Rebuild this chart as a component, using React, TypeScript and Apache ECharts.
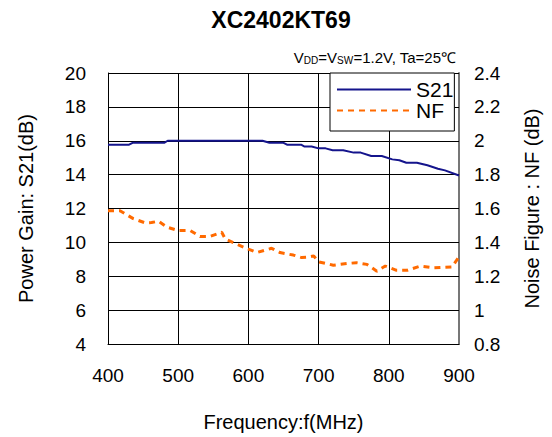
import React, { useEffect, useRef } from "react";
import * as echarts from "echarts";

const titleText = "XC2402KT69";
const xTicks = [400, 500, 600, 700, 800, 900];
const freqS21 = [400, 430, 435, 480, 485, 620, 630, 650, 655, 675, 680, 690, 700, 710, 720, 735, 750, 760, 775, 790, 805, 815, 825, 840, 855, 870, 880, 900];
const s21 = [15.77, 15.77, 15.88, 15.88, 16.0, 16.0, 15.88, 15.88, 15.77, 15.77, 15.66, 15.66, 15.55, 15.55, 15.44, 15.44, 15.3, 15.3, 15.1, 15.1, 14.9, 14.85, 14.7, 14.7, 14.55, 14.35, 14.25, 13.95];
const freqNF = [400, 417, 436, 453, 462, 472, 484, 500, 517, 531, 545, 562, 567, 583, 600, 612, 633, 645, 664, 676, 685, 693, 700, 716, 721, 740, 754, 769, 783, 795, 811, 826, 845, 864, 890, 900];
const nf = [1.587, 1.587, 1.54, 1.515, 1.517, 1.525, 1.49, 1.47, 1.47, 1.435, 1.435, 1.46, 1.42, 1.39, 1.36, 1.34, 1.365, 1.34, 1.325, 1.31, 1.313, 1.32, 1.285, 1.27, 1.265, 1.275, 1.28, 1.27, 1.23, 1.26, 1.235, 1.235, 1.26, 1.25, 1.255, 1.315];

const FONT = "'Liberation Sans', Arial, sans-serif";

export default function App() {
  const ref = useRef<HTMLDivElement>(null);
  useEffect(() => {
    document.body.style.margin = "0";
    const chart = echarts.init(ref.current!, null, { renderer: "svg" });
    const tickText = { color: "#000", fontSize: 19, fontFamily: FONT };
    const nameText = { color: "#000", fontSize: 20, fontFamily: FONT };
    chart.setOption({
      animation: false,
      backgroundColor: "#fff",
      textStyle: { fontFamily: FONT },
      graphic: [
        {
          type: "text",
          x: 281,
          y: 20,
          style: { text: titleText, font: `bold 23px ${FONT}`, fill: "#000", textAlign: "center", textVerticalAlign: "middle" },
        },
        {
          type: "text",
          x: 456,
          y: 49,
          style: {
            text: "{n|V}{s|DD}{n|=V}{s|SW}{n|=1.2V, Ta=25℃}",
            textAlign: "right",
            fill: "#000",
            rich: {
              n: { fontSize: 15, fontFamily: FONT, lineHeight: 16, verticalAlign: "bottom" },
              s: { fontSize: 10, fontFamily: FONT, lineHeight: 11, verticalAlign: "bottom" },
            },
          },
        },
      ],
      legend: {
        left: 330,
        top: 73,
        orient: "vertical",
        itemWidth: 74,
        itemHeight: 12,
        itemGap: 0,
        itemTextGap: 5,
        padding: [6, 1, 10, 6],
        backgroundColor: "#fff",
        borderColor: "#000",
        borderWidth: 1,
        borderRadius: 0,
        itemStyle: { opacity: 0 },
        textStyle: { fontSize: 21, color: "#000", fontFamily: FONT },
        data: ["S21", "NF"],
      },
      grid: { left: 108, right: 93, top: 73, bottom: 88 },
      xAxis: {
        type: "value",
        min: 400,
        max: 900,
        interval: 100,
        name: "Frequency:f(MHz)",
        nameLocation: "middle",
        nameGap: 68,
        nameTextStyle: nameText,
        axisLine: { lineStyle: { color: "#000", width: 1 } },
        axisTick: { show: false },
        axisLabel: { ...tickText, margin: 22, formatter: (v: number) => (xTicks.includes(v) ? String(v) : "") },
        splitLine: { show: true, lineStyle: { color: "#000", width: 1 } },
      },
      yAxis: [
        {
          type: "value",
          min: 4,
          max: 20,
          interval: 2,
          name: "Power Gain: S21(dB)",
          nameLocation: "middle",
          nameGap: 72,
          nameTextStyle: nameText,
          axisLine: { show: true, lineStyle: { color: "#000", width: 1 } },
          axisTick: { show: true, inside: true, length: 4, lineStyle: { color: "#000" } },
          axisLabel: { ...tickText, margin: 22 },
          splitLine: { show: true, lineStyle: { color: "#000", width: 1 } },
        },
        {
          type: "value",
          min: 0.8,
          max: 2.4,
          interval: 0.2,
          name: "Noise Figure : NF (dB)",
          nameLocation: "middle",
          nameGap: 63,
          nameTextStyle: nameText,
          axisLine: { show: true, lineStyle: { color: "#777", width: 2 } },
          axisTick: { show: true, inside: true, length: 5, lineStyle: { color: "#000" } },
          axisLabel: { ...tickText, margin: 15, formatter: (v: number) => String(Math.round(v * 10) / 10) },
          splitLine: { show: false },
        },
      ],
      series: [
        {
          name: "S21",
          type: "line",
          yAxisIndex: 0,
          symbol: "none",
          data: freqS21.map((f, i) => [f, s21[i]]),
          lineStyle: { color: "#14148c", width: 2 },
          itemStyle: { color: "#14148c" },
          z: 3,
        },
        {
          name: "NF",
          type: "line",
          yAxisIndex: 1,
          symbol: "none",
          data: freqNF.map((f, i) => [f, nf[i]]),
          lineStyle: { color: "#ff6a00", width: 3, type: [6, 5] },
          itemStyle: { color: "#ff6a00" },
          z: 3,
        },
      ],
    });
    return () => chart.dispose();
  }, []);
  return <div ref={ref} style={{ width: 552, height: 437 }} />;
}
